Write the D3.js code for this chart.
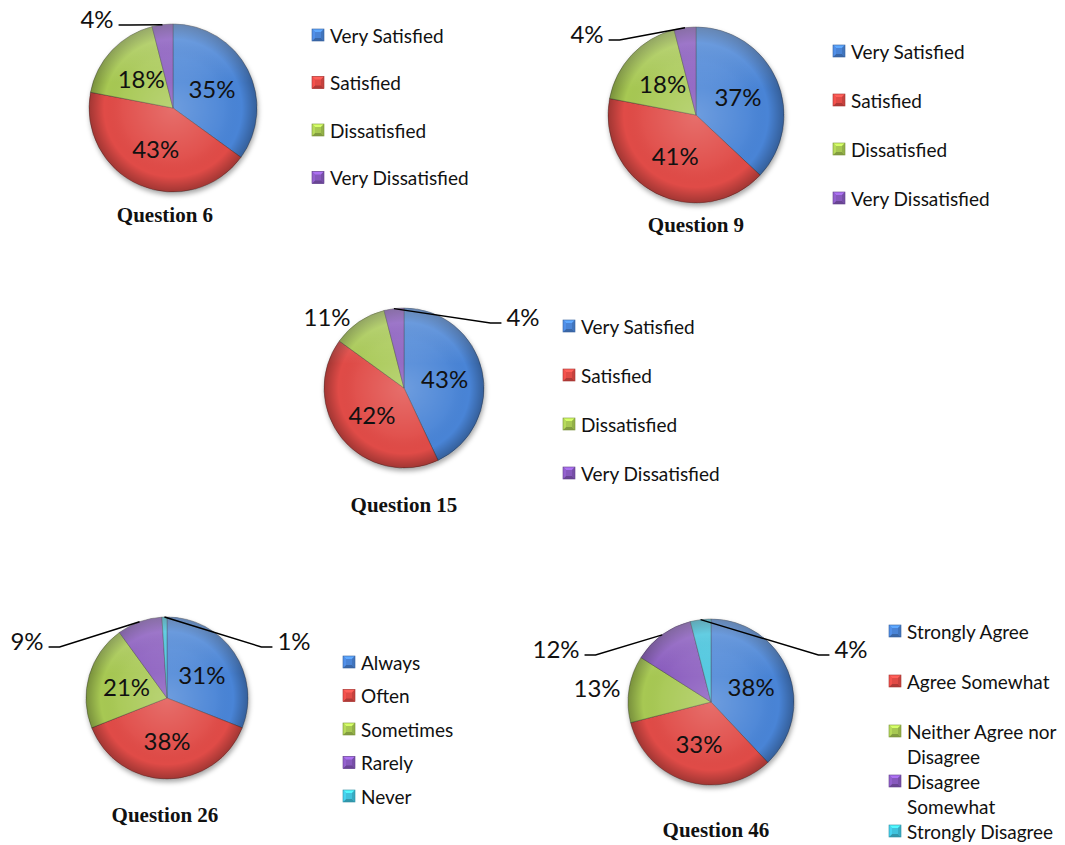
<!DOCTYPE html>
<html>
<head>
<meta charset="utf-8">
<script src="https://cdn.jsdelivr.net/npm/d3@7"></script>
<style>
  body { margin: 0; background: #fff; }
  svg { display: block; }
</style>
</head>
<body>
<svg id="chart" width="1065" height="845"></svg>
<script>
// Response categories
const satisfactionLevels = ["Very Satisfied", "Satisfied", "Dissatisfied", "Very Dissatisfied"];
const frequencyLevels = ["Always", "Often", "Sometimes", "Rarely", "Never"];
const agreementLevels = ["Strongly Agree", "Agree Somewhat", "Neither Agree nor Disagree", "Disagree Somewhat", "Strongly Disagree"];

// Share of responses (%) for each question
const question6 = [35, 43, 18, 4];
const question9 = [37, 41, 18, 4];
const question15 = [43, 42, 11, 4];
const question26 = [31, 38, 21, 9, 1];
const question46 = [38, 33, 13, 12, 4];

const sliceColors = ["#4a84d6", "#e04b46", "#a7c852", "#8759bd", "#40c2dc"];

// Placement of each pie, its title and legend; callouts are labels set outside the pie
const panels = [
  { title: "Question 6", values: question6, categories: satisfactionLevels,
    cx: 173, cy: 108, r: 84, titleX: 165, titleY: 215,
    legendX: 312, legendY: 35, legendStep: 47.5,
    callouts: { 3: { dx: -76, dy: -90, line: true } } },
  { title: "Question 9", values: question9, categories: satisfactionLevels,
    cx: 696, cy: 115, r: 88, titleX: 696, titleY: 225,
    legendX: 833, legendY: 51, legendStep: 49,
    callouts: { 3: { dx: -109, dy: -82, line: true } } },
  { title: "Question 15", values: question15, categories: satisfactionLevels,
    cx: 404, cy: 388, r: 80, titleX: 404, titleY: 505,
    legendX: 563, legendY: 326, legendStep: 49,
    callouts: { 2: { dx: -77, dy: -72, line: false }, 3: { dx: 119, dy: -72, line: true } } },
  { title: "Question 26", values: question26, categories: frequencyLevels,
    cx: 167, cy: 698, r: 81, titleX: 165, titleY: 815,
    legendX: 343, legendY: 662, legendStep: 33.5,
    callouts: { 3: { dx: -140, dy: -58, line: true }, 4: { dx: 127, dy: -58, line: true } } },
  { title: "Question 46", values: question46, categories: agreementLevels,
    cx: 711, cy: 702, r: 83, titleX: 716, titleY: 830,
    legendX: 889, legendY: 631, legendStep: 50, wrapWidth: 150,
    callouts: { 2: { dx: -114, dy: -15, line: false }, 3: { dx: -155, dy: -54, line: true }, 4: { dx: 140, dy: -54, line: true } } }
];

const svg = d3.select("#chart");
const defs = svg.append("defs");

// Soft shadow under each pie
const shadow = defs.append("filter").attr("id", "pieShadow")
  .attr("x", "-20%").attr("y", "-20%").attr("width", "140%").attr("height", "150%");
shadow.append("feDropShadow")
  .attr("dx", 1).attr("dy", 3).attr("stdDeviation", 2.5)
  .attr("flood-color", "#000").attr("flood-opacity", 0.35);

// Rounded, bevelled look: light centre, darker rim, gloss on top
const shade = defs.append("radialGradient").attr("id", "pieShade");
[[0, "#fff", 0.2], [0.6, "#fff", 0.04], [0.82, "#000", 0], [1, "#000", 0.28]].forEach(([o, c, a]) =>
  shade.append("stop").attr("offset", o).attr("stop-color", c).attr("stop-opacity", a));
const gloss = defs.append("linearGradient").attr("id", "pieGloss")
  .attr("x1", 0).attr("y1", 0).attr("x2", 0).attr("y2", 1);
[[0, "#fff", 0.25], [0.35, "#fff", 0], [1, "#fff", 0]].forEach(([o, c, a]) =>
  gloss.append("stop").attr("offset", o).attr("stop-color", c).attr("stop-opacity", a));

const pie = d3.pie().sort(null).value(d => d);
const pct = v => v + "%";

const labelFont = "Lato, 'Open Sans', sans-serif";
const titleFont = "'Liberation Serif', 'Times New Roman', serif";

panels.forEach(p => {
  const g = svg.append("g").attr("transform", `translate(${p.cx},${p.cy})`);
  const arcs = pie(p.values);
  const arc = d3.arc().innerRadius(0).outerRadius(p.r);
  const labelArc = d3.arc().innerRadius(p.r * 0.52).outerRadius(p.r * 0.52);

  const body = g.append("g").attr("filter", "url(#pieShadow)");
  body.selectAll("path").data(arcs).join("path")
    .attr("d", arc)
    .attr("fill", (d, i) => sliceColors[i])
    .attr("stroke", "rgba(40,40,40,0.45)")
    .attr("stroke-width", 0.8);
  g.append("circle").attr("r", p.r).attr("fill", "url(#pieShade)");
  g.append("circle").attr("r", p.r).attr("fill", "url(#pieGloss)");

  // Percentage labels
  arcs.forEach((d, i) => {
    const c = p.callouts[i];
    if (!c) {
      const [x, y] = labelArc.centroid(d);
      g.append("text").attr("x", x).attr("y", y)
        .attr("text-anchor", "middle").attr("dominant-baseline", "central")
        .attr("font-family", labelFont).attr("font-size", 24).attr("fill", "#111")
        .text(pct(d.data));
      return;
    }
    const t = g.append("text").attr("x", c.dx).attr("y", c.dy)
      .attr("text-anchor", "middle").attr("dominant-baseline", "central")
      .attr("font-family", labelFont).attr("font-size", 24).attr("fill", "#111")
      .text(pct(d.data));
    if (c.line) {
      const w = t.node().getComputedTextLength();
      const mid = (d.startAngle + d.endAngle) / 2;
      const ax = Math.sin(mid) * p.r, ay = -Math.cos(mid) * p.r;
      const side = c.dx < 0 ? 1 : -1;
      const x0 = c.dx + side * (w / 2 + 5);
      const x1 = x0 + side * 11;
      const ly = c.dy + 7;
      g.append("path")
        .attr("d", d3.line()([[x0, ly], [x1, ly], [ax, ay]]))
        .attr("fill", "none").attr("stroke", "#000").attr("stroke-width", 1.5);
    }
  });

  // Title under the pie
  svg.append("text").attr("x", p.titleX).attr("y", p.titleY)
    .attr("text-anchor", "middle").attr("dominant-baseline", "central")
    .attr("font-family", titleFont).attr("font-weight", "bold").attr("font-size", 21)
    .attr("fill", "#111").text(p.title);

  // Legend with bevelled swatches
  const legend = svg.append("g").attr("transform", `translate(${p.legendX},${p.legendY})`);
  p.categories.forEach((name, i) => {
    const item = legend.append("g").attr("transform", `translate(0,${i * p.legendStep})`);
    const base = d3.color(sliceColors[i]);
    const s = 12, b = 3;
    const sw = item.append("g").attr("transform", `translate(0,${-s / 2})`);
    sw.append("rect").attr("width", s).attr("height", s).attr("fill", base);
    const facets = [
      [[[0, 0], [s, 0], [s - b, b], [b, b]], base.brighter(0.7)],
      [[[0, s], [s, s], [s - b, s - b], [b, s - b]], base.darker(0.7)],
      [[[0, 0], [b, b], [b, s - b], [0, s]], base.brighter(0.25)],
      [[[s, 0], [s - b, b], [s - b, s - b], [s, s]], base.darker(0.35)]
    ];
    facets.forEach(([pts, col]) =>
      sw.append("path").attr("d", d3.line()(pts) + "Z").attr("fill", col));
    sw.append("rect").attr("width", s).attr("height", s)
      .attr("fill", "none").attr("stroke", base.darker(0.9)).attr("stroke-width", 0.6);

    const text = item.append("text").attr("x", 18).attr("y", 0)
      .attr("dominant-baseline", "central")
      .attr("font-family", labelFont).attr("font-size", 19).attr("fill", "#111");
    if (p.wrapWidth) {
      const words = name.split(" ");
      let line = [];
      let tspan = text.append("tspan").attr("x", 18).attr("dy", 0);
      words.forEach(word => {
        line.push(word);
        tspan.text(line.join(" "));
        if (tspan.node().getComputedTextLength() > p.wrapWidth && line.length > 1) {
          line.pop();
          tspan.text(line.join(" "));
          line = [word];
          tspan = text.append("tspan").attr("x", 18).attr("dy", 25).text(word);
        }
      });
    } else {
      text.text(name);
    }
  });
});
</script>
</body>
</html>
